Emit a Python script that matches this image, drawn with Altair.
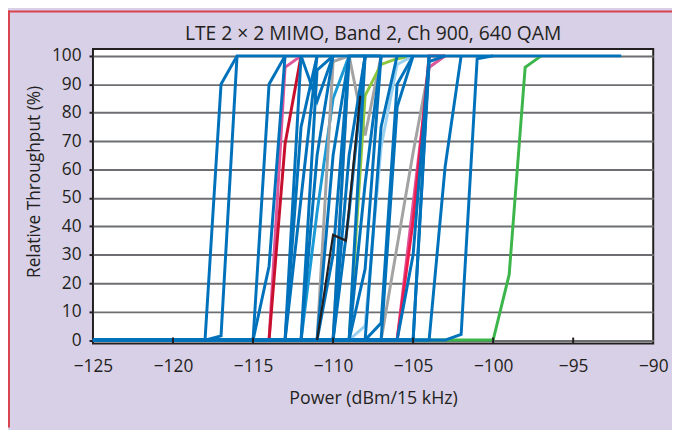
import altair as alt
import pandas as pd

BLUE = "#0072bc"
CYAN = "#1c9ad6"
LIGHTBLUE = "#9ad1f1"
GRAY = "#a3a3a3"
BLACK = "#231f20"
PINK = "#e0569b"
RED = "#c8102e"
RED2 = "#ec1c4f"
LIME = "#8dc63f"
GREEN = "#3cb54a"

TITLE = "LTE 2 × 2 MIMO, Band 2, Ch 900, 640 QAM"
X_TITLE = "Power (dBm/15 kHz)"
Y_TITLE = "Relative Throughput (%)"

# ---- coloured series (drawn beneath the blue ones) ----
pink1_x = [-125, -114, -113, -112]; pink1_y = [0, 0, 96, 100]
red1_x = [-125, -114, -113, -112]; red1_y = [0, 0, 69, 100]
cyan_x = [-125, -112, -111, -110, -109]; cyan_y = [0, 0, 45, 85, 100]
gray1_x = [-125, -111, -110, -109]; gray1_y = [0, 0, 98, 100]
gray3_x = [-125, -110, -109, -108, -107]; gray3_y = [0, 0, 100, 72, 100]
lime_x = [-125, -109, -108, -107, -106, -105]; lime_y = [0, 0, 86, 97, 99, 100]
lblue_x = [-125, -109, -108, -107, -106, -105]; lblue_y = [0, 0, 5, 68, 97, 100]
gray2_x = [-125, -107, -106, -105, -104, -103]; gray2_y = [0, 0, 33, 66, 96, 100]
pink2_x = [-125, -106, -105, -104, -103]; pink2_y = [0, 0, 48, 96, 100]
red2_x = [-125, -106, -105, -104.3, -104, -103]; red2_y = [0, 0, 42, 82, 100, 100]
green_x = [-125, -100, -99, -98, -97]; green_y = [0, 0, 23, 96, 100]
# black series: lower part drawn above the blue lines, top part beneath
black_lo_x = [-111, -110, -109.2, -108.3]; black_lo_y = [0, 37, 35, 86]
black_hi_x = [-108.3, -108]; black_hi_y = [86, 100]

# ---- blue series ----
b01_x = [-125, -118, -117, -116, -92]; b01_y = [0, 0, 90, 100, 100]
b02_x = [-125, -118, -117, -116]; b02_y = [0, 0, 1.5, 100]
b03_x = [-125, -115, -114, -113]; b03_y = [0, 0, 90, 100]
b04_x = [-125, -115, -114, -113]; b04_y = [0, 0, 26, 100]
b05_x = [-125, -113, -112, -111, -110]; b05_y = [0, 0, 100, 84, 100]
b06_x = [-125, -113, -112, -111]; b06_y = [0, 0, 75, 100]
b07_x = [-125, -113, -112, -111]; b07_y = [0, 0, 50, 100]
b08_x = [-125, -112, -111, -110]; b08_y = [0, 0, 95, 100]
b09_x = [-125, -112, -111, -110]; b09_y = [0, 0, 65, 100]
b10_x = [-125, -111, -110, -109]; b10_y = [0, 0, 65, 100]
b11_x = [-125, -111, -110, -109]; b11_y = [0, 0, 30, 100]
b12_x = [-125, -110, -109, -108]; b12_y = [0, 0, 100, 100]
b13_x = [-125, -110, -109, -108]; b13_y = [0, 0, 65, 100]
b14_x = [-125, -110, -109, -108]; b14_y = [0, 0, 45, 100]
b15_x = [-125, -109, -108, -107]; b15_y = [0, 0, 100, 100]
b16_x = [-125, -109, -108, -107]; b16_y = [0, 0, 55, 100]
b17_x = [-125, -109, -108, -107]; b17_y = [0, 0, 25, 100]
b18_x = [-125, -108, -107, -106]; b18_y = [0, 0, 75, 100]
b19_x = [-125, -108, -107, -106, -105]; b19_y = [0, 0, 6, 90, 100]
b20_x = [-125, -107, -106, -105]; b20_y = [0, 0, 82, 100]
b21_x = [-125, -106, -105, -104]; b21_y = [0, 0, 30, 100]
b22_x = [-125, -105, -104, -103]; b22_y = [0, 0, 98, 100]
b23_x = [-125, -105, -104]; b23_y = [0, 0, 100]
b24_x = [-125, -104, -103, -102]; b24_y = [0, 0, 61, 100]
b25_x = [-125, -103, -102, -101, -100]; b25_y = [0, 0, 2, 99, 100]

x_tick_values = [-125, -120, -115, -110, -105, -100, -95, -90]
y_tick_values = [0, 10, 20, 30, 40, 50, 60, 70, 80, 90, 100]

coloured = [
    ("green", green_x, green_y, GREEN),
    ("pink1", pink1_x, pink1_y, PINK),
    ("red1", red1_x, red1_y, RED),
    ("cyan", cyan_x, cyan_y, CYAN),
    ("gray1", gray1_x, gray1_y, GRAY),
    ("gray3", gray3_x, gray3_y, GRAY),
    ("lime", lime_x, lime_y, LIME),
    ("lblue", lblue_x, lblue_y, LIGHTBLUE),
    ("gray2", gray2_x, gray2_y, GRAY),
    ("pink2", pink2_x, pink2_y, PINK),
    ("red2", red2_x, red2_y, RED2),
    ("black_hi", black_hi_x, black_hi_y, BLACK),
]
blues = [
    ("b01", b01_x, b01_y), ("b02", b02_x, b02_y), ("b03", b03_x, b03_y),
    ("b04", b04_x, b04_y), ("b05", b05_x, b05_y), ("b06", b06_x, b06_y),
    ("b07", b07_x, b07_y), ("b08", b08_x, b08_y), ("b09", b09_x, b09_y),
    ("b10", b10_x, b10_y), ("b11", b11_x, b11_y), ("b12", b12_x, b12_y),
    ("b13", b13_x, b13_y), ("b14", b14_x, b14_y), ("b15", b15_x, b15_y),
    ("b16", b16_x, b16_y), ("b17", b17_x, b17_y), ("b18", b18_x, b18_y),
    ("b19", b19_x, b19_y), ("b20", b20_x, b20_y), ("b21", b21_x, b21_y),
    ("b22", b22_x, b22_y), ("b23", b23_x, b23_y), ("b24", b24_x, b24_y),
    ("b25", b25_x, b25_y),
]
tops = [("black_lo", black_lo_x, black_lo_y, BLACK)]


def to_rows(items):
    rows = []
    for name, xs, ys, col in items:
        for i, (x, y) in enumerate(zip(xs, ys)):
            rows.append({"series": name, "x": x, "y": y, "i": i, "col": col})
    return pd.DataFrame(rows)


df_c = to_rows(coloured)
df_b = to_rows([(n, xs, ys, BLUE) for n, xs, ys in blues])
df_k = to_rows(tops)
df_t = pd.DataFrame({"t": x_tick_values[1:-1]})
df_title = pd.DataFrame({"label": [TITLE]})

FONT = "Open Sans"
TXT = "#231f20"
W, H = 567, 298
PL, PT, PR, PB = 86, 39, 19, 85

xscale = alt.Scale(domain=[-125, -90], nice=False, zero=False)
yscale = alt.Scale(domain=[-1.2, 102.4], nice=False, zero=False)

xaxis = alt.Axis(
    values=x_tick_values, title=X_TITLE, grid=False, ticks=False,
    domain=False, labelFontSize=17.5, labelPadding=14, labelColor=TXT,
    labelFlush=False,
    labelFont=FONT, titleFont=FONT, titleFontSize=18, titleFontWeight="normal",
    titleColor=TXT, titleY=61, titleBaseline="alphabetic",
)
yaxis = alt.Axis(
    values=y_tick_values, title=Y_TITLE, grid=True,
    gridColor="#6d6e71", gridWidth=2, tickSize=4, tickWidth=2, tickColor=TXT,
    domain=False, labelFontSize=17.5, labelPadding=8, labelColor=TXT,
    labelFont=FONT, titleFont=FONT, titleFontSize=17.5, titleFontWeight="normal",
    titleColor=TXT, titleX=-54, titleY=134, titleBaseline="alphabetic",
)


def lines(df, width):
    return alt.Chart(df).mark_line(strokeWidth=width).encode(
        x=alt.X("x:Q", scale=xscale, axis=xaxis),
        y=alt.Y("y:Q", scale=yscale, axis=yaxis),
        color=alt.Color("col:N", scale=None),
        detail="series:N",
        order="i:Q",
    )


lines_c = lines(df_c, 3)
lines_b = lines(df_b, 3)
lines_k = lines(df_k, 2.2)
ticks = alt.Chart(df_t).mark_rule(color=TXT, strokeWidth=2).encode(
    x=alt.X("t:Q", scale=xscale, axis=xaxis),
    y=alt.value(H - 6),
    y2=alt.value(H),
)
title_txt = alt.Chart(df_title).mark_text(
    font=FONT, fontSize=19.5, color=TXT, align="center", baseline="middle"
).encode(
    text="label:N", x=alt.value(W / 2), y=alt.value(-15)
)
border_top = alt.Chart(df_title).mark_rule(color="#d9434f", strokeWidth=2).encode(
    x=alt.value(-PL), x2=alt.value(W + PR), y=alt.value(-PT + 1)
)
border_left = alt.Chart(df_title).mark_rule(color="#d9434f", strokeWidth=2).encode(
    x=alt.value(-PL + 1), y=alt.value(-PT), y2=alt.value(H + PB)
)

chart = alt.layer(
    lines_c, lines_b, lines_k, ticks, title_txt, border_top, border_left
).properties(
    width=W, height=H,
    autosize=alt.AutoSizeParams(type="none"),
    padding={"left": PL, "top": PT, "right": PR, "bottom": PB},
    background="#d8d0e6",
).configure_view(
    stroke=TXT, strokeWidth=2, fill="white"
)

chart.save("out.html", embed_options={"renderer": "svg", "actions": False})
